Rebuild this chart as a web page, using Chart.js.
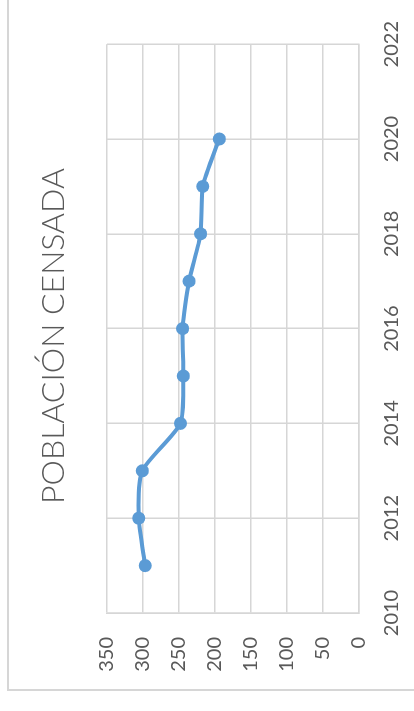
<!DOCTYPE html>
<html>
<head>
<meta charset="utf-8">
<title>Población censada</title>
<script src="https://cdn.jsdelivr.net/npm/chart.js@4.4.1/dist/chart.umd.min.js"></script>
<style>
  html, body { margin: 0; padding: 0; background: #fff; overflow: hidden; }
  /* the chart is laid out landscape and turned a quarter turn to the left */
  #wrap {
    position: absolute; left: 0; top: 0;
    width: 711px; height: 414px;
    transform-origin: 0 0;
    transform: translateY(711px) rotate(-90deg);
  }
</style>
</head>
<body>
<div id="wrap"><canvas id="canvas" width="711" height="414"></canvas></div>
<script>
const years = [2011, 2012, 2013, 2014, 2015, 2016, 2017, 2018, 2019, 2020];
const poblacion = [297, 306, 301, 248, 244, 245, 236, 220, 217, 194];
const yearTicks = [2010, 2012, 2014, 2016, 2018, 2020, 2022];
const valueTicks = [0, 50, 100, 150, 200, 250, 300, 350];
const chartTitle = 'POBLACIÓN CENSADA';

const gridColor = '#d6d6d6';
const textColor = '#595959';

// white background and the outer frame of the chart
const frame = {
  id: 'frame',
  beforeDraw(chart){
    const ctx = chart.ctx;
    ctx.save();
    ctx.fillStyle = '#fff';
    ctx.fillRect(0, 0, chart.width, chart.height);
    ctx.strokeStyle = gridColor;
    ctx.lineWidth = 2;
    ctx.strokeRect(21, 8, chart.width + 20, chart.height + 20);
    ctx.restore();
  }
}

// title sits a bit right of the canvas centre, over the plot
const titleText = {
  id: 'titleText',
  afterDraw(chart){
    const ctx = chart.ctx;
    ctx.save();
    ctx.fillStyle = textColor;
    ctx.font = '300 32px Lato';
    ctx.textAlign = 'center';
    ctx.textBaseline = 'middle';
    ctx.fillText(chartTitle, 375, 54);
    ctx.restore();
  }
}

const ctx = document.getElementById('canvas');

new Chart(ctx, {
  type: 'line',
  plugins: [frame, titleText],
  data: {
    datasets: [{
      label: 'Población censada',
      data: years.map((y, i) => ({x: y, y: poblacion[i]})),
      borderColor: '#5b9bd5',
      backgroundColor: '#5b9bd5',
      borderWidth: 4,
      pointRadius: 6.5,
      pointBorderWidth: 0,
      tension: 0.22
    }]
  },
  options: {
    responsive: false,
    animation: false,
    layout: {
      padding: {left: 20, right: 43, top: 107, bottom: 0}
    },
    plugins: {
      legend: { display: false },
      tooltip: { enabled: false },
      title: { display: false }
    },
    scales: {
      x: {
        type: 'linear',
        min: 2010,
        max: 2022,
        afterBuildTicks(scale){
          scale.ticks = yearTicks.map(v => ({value: v}));
        },
        grid: { color: gridColor, lineWidth: 1.5, drawTicks: false },
        border: { color: gridColor, width: 1.5 },
        ticks: {
          color: textColor,
          font: { family: 'Lato', size: 20 },
          padding: 21,
          callback: v => String(v)
        },
        afterFit(scale){ scale.height = 55; }
      },
      y: {
        min: 0,
        max: 350,
        afterBuildTicks(scale){
          scale.ticks = valueTicks.map(v => ({value: v}));
        },
        grid: { color: gridColor, lineWidth: 1.5, drawTicks: false },
        border: { color: gridColor, width: 1.5 },
        ticks: {
          color: textColor,
          font: { family: 'Lato', size: 20 },
          padding: 24
        },
        afterFit(scale){ scale.width = 78; }
      }
    }
  }
});
</script>
</body>
</html>
